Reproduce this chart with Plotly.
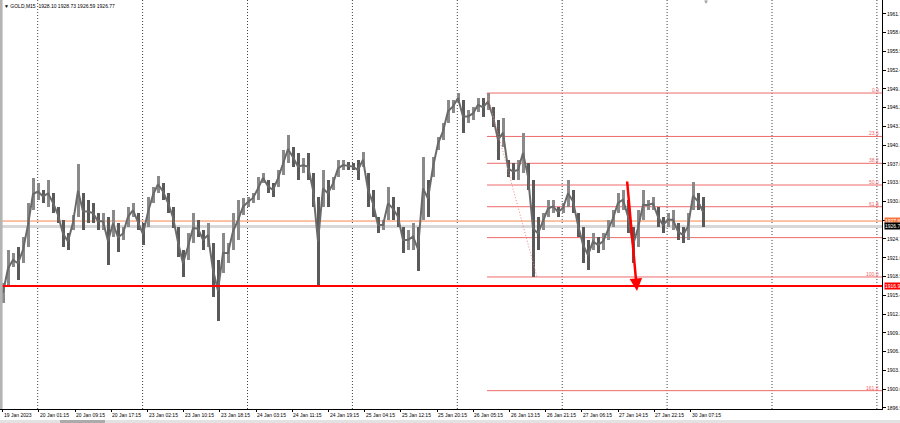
import plotly.graph_objects as go

# ---- data (one column ~ 4.4 M15 bars) ----
HIGH = [1917.5, 1922.9, 1922.4, 1923.4, 1925.0, 1930.6, 1934.7, 1933.9, 1932.8, 1934.4,
        1932.3, 1930.0, 1927.8, 1925.7, 1928.6, 1937.0, 1932.3, 1931.1, 1930.6, 1929.0,
        1929.0, 1928.3, 1929.5, 1927.3, 1926.7, 1930.0, 1930.6, 1929.0, 1927.3, 1931.6,
        1933.3, 1935.1, 1933.9, 1932.3, 1930.0, 1926.7, 1922.9, 1925.7, 1929.0, 1927.8,
        1926.2, 1927.3, 1924.0, 1921.2, 1925.7, 1924.0, 1929.0, 1931.1, 1931.4, 1931.6,
        1932.3, 1934.9, 1935.6, 1934.4, 1933.9, 1936.0, 1939.3, 1941.8, 1939.8, 1938.8,
        1938.0, 1938.8, 1935.6, 1931.6, 1936.0, 1934.4, 1934.9, 1937.7, 1937.7, 1937.4,
        1937.2, 1937.7, 1939.0, 1935.6, 1932.8, 1928.3, 1927.8, 1933.3, 1931.6, 1930.0,
        1926.7, 1926.2, 1927.3, 1926.7, 1938.2, 1934.4, 1938.2, 1941.5, 1943.8, 1947.6,
        1947.6, 1948.7, 1947.6, 1945.9, 1946.4, 1947.9, 1947.9, 1948.7, 1946.4, 1944.3,
        1944.6, 1937.7, 1937.2, 1937.7, 1942.1, 1937.2, 1934.4, 1928.3, 1929.0, 1931.1,
        1931.1, 1930.0, 1930.6, 1934.4, 1932.8, 1929.0, 1926.7, 1924.5, 1925.7, 1925.0,
        1925.7, 1927.8, 1929.5, 1932.3, 1932.8, 1931.1, 1926.7, 1929.5, 1932.8, 1931.1,
        1931.6, 1930.0, 1928.3, 1929.0, 1929.5, 1927.3, 1926.7, 1929.0, 1934.1, 1932.3,
        1931.6]
LOW = [1914.2, 1916.8, 1920.1, 1918.0, 1920.8, 1923.4, 1929.5, 1931.1, 1930.6, 1930.0,
       1929.0, 1927.3, 1923.4, 1922.9, 1926.2, 1928.3, 1926.2, 1927.3, 1927.3, 1926.2,
       1926.2, 1920.4, 1925.0, 1922.6, 1924.5, 1926.7, 1928.3, 1926.2, 1923.7, 1926.7,
       1930.6, 1932.3, 1931.1, 1929.0, 1926.5, 1921.7, 1918.5, 1921.2, 1924.0, 1925.0,
       1922.9, 1923.4, 1915.2, 1911.2, 1919.1, 1920.8, 1922.9, 1924.5, 1928.6, 1930.0,
       1930.6, 1931.1, 1933.9, 1932.3, 1931.6, 1933.3, 1935.2, 1937.2, 1936.5, 1934.4,
       1935.6, 1934.4, 1930.0, 1917.0, 1930.0, 1930.0, 1932.8, 1934.9, 1936.0, 1936.0,
       1936.0, 1934.4, 1936.5, 1930.0, 1928.3, 1925.7, 1926.2, 1927.8, 1927.8, 1926.7,
       1922.4, 1922.9, 1922.9, 1919.4, 1927.8, 1928.3, 1934.9, 1939.3, 1941.0, 1943.8,
       1945.4, 1947.1, 1942.1, 1943.8, 1944.3, 1945.6, 1944.8, 1945.9, 1943.1, 1937.7,
       1939.8, 1934.9, 1934.4, 1934.4, 1935.6, 1932.8, 1918.5, 1922.9, 1926.2, 1928.3,
       1929.0, 1928.3, 1929.0, 1930.0, 1929.0, 1925.0, 1920.8, 1919.6, 1922.9, 1922.4,
       1922.9, 1924.5, 1926.7, 1929.0, 1929.5, 1925.7, 1920.8, 1923.4, 1927.8, 1929.5,
       1929.5, 1926.7, 1925.7, 1926.7, 1926.2, 1924.5, 1924.0, 1924.5, 1929.5, 1929.5,
       1926.7]

TIME_LABELS = ["19 Jan 2023", "20 Jan 01:15", "20 Jan 09:15", "20 Jan 17:15", "23 Jan 02:15",
               "23 Jan 10:15", "23 Jan 18:15", "24 Jan 03:15", "24 Jan 11:15", "24 Jan 19:15",
               "25 Jan 04:15", "25 Jan 12:15", "25 Jan 20:15", "26 Jan 05:15", "26 Jan 13:15",
               "26 Jan 21:15", "27 Jan 06:15", "27 Jan 14:15", "27 Jan 22:15", "30 Jan 07:15"]
PRICE_TICKS = [1896.93, 1900.02, 1903.10, 1906.19, 1909.27, 1912.36, 1915.44, 1918.53,
               1921.61, 1924.70, 1927.78, 1930.87, 1933.95, 1937.04, 1940.12, 1943.21,
               1946.29, 1949.38, 1952.46, 1955.55, 1958.63, 1961.72]

FIB_HIGH = 1948.70
FIB_LOW = 1918.45
FIB_LEVELS = [0.0, 23.6, 38.2, 50.0, 61.8, 78.6, 100.0, 161.8]
FIB_LABELLED = [True, True, True, True, True, False, True, True]
SUPPORT = 1916.97
ASK = 1927.65
BID = 1926.77
TITLE_OHLC = "1928.10 1928.73 1926.59 1926.77"
ARROW_FROM = (124.8, 1934.4)
ARROW_TO = (126.8, 1916.15)
FIB_START_COL = 96.8
FIB_TREND_END_COL = 106.8
SHIFT_MARK_COL = 140.6

# ---- layout constants ----
W, H = 900, 423
ML, MR, MT, MB = 0, 18, 0, 14
COLS_PER_LABEL = 7.24
LABEL_OFFSET = -0.06
GRID_START, GRID_STEP = 6.94, 20.98
X_MIN, X_MAX = -0.6, 175.8
Y_MIN, Y_MAX = 1896.74, 1964.0
FONT = "Liberation Sans"
FIB_COLOR = "#ee6b6b"

plot_h = H - MT - MB
plot_w = W - ML - MR

x = list(range(len(HIGH)))
mid = [(h + l) / 2 for h, l in zip(HIGH, LOW)]
colors = ["#5a5a5a" if i > 0 and mid[i] < mid[i - 1] else "#8a8a8a" for i in range(len(mid))]

fig = go.Figure()
fig.add_trace(go.Scatter(x=x, y=mid, mode="lines", line=dict(color="#6a6a6a", width=2),
                         hoverinfo="skip", showlegend=False))
fig.add_trace(go.Bar(x=x, y=[h - l for h, l in zip(HIGH, LOW)], base=LOW,
                     marker=dict(color=colors, line=dict(width=0)), width=0.6,
                     hoverinfo="skip", showlegend=False))

shapes = []
# vertical dotted grid
g = GRID_START
while g < X_MAX:
    shapes.append(dict(type="line", xref="x", yref="paper", x0=g, x1=g, y0=0, y1=1,
                       line=dict(color="#404040", width=1, dash="1px,2px"), layer="below"))
    g += GRID_STEP

# bid / ask lines
shapes.append(dict(type="line", xref="paper", yref="y", x0=0, x1=1, y0=BID, y1=BID,
                   line=dict(color="#d8d8d8", width=3), layer="below"))
shapes.append(dict(type="line", xref="paper", yref="y", x0=0, x1=1, y0=ASK, y1=ASK,
                   line=dict(color="#f4884e", width=1), layer="below"))

# fibonacci levels
annotations = []
rng = FIB_HIGH - FIB_LOW
for lvl, lab in zip(FIB_LEVELS, FIB_LABELLED):
    p = FIB_HIGH - lvl / 100.0 * rng
    shapes.append(dict(type="line", xref="x", yref="y", x0=FIB_START_COL, x1=X_MAX, y0=p, y1=p,
                       line=dict(color=FIB_COLOR, width=1), layer="below"))
    if lab:
        annotations.append(dict(xref="paper", yref="y", x=0.998, y=p, xanchor="right",
                                yanchor="bottom", text=f"{lvl:.1f}", showarrow=False,
                                borderpad=0, yshift=-1,
                                font=dict(family=FONT, size=5, color=FIB_COLOR)))
# fib trend line
shapes.append(dict(type="line", xref="x", yref="y", x0=FIB_START_COL, y0=FIB_HIGH,
                   x1=FIB_TREND_END_COL, y1=FIB_LOW,
                   line=dict(color="#f08080", width=1, dash="1px,2px")))
# support line
shapes.append(dict(type="line", xref="paper", yref="y", x0=0, x1=1, y0=SUPPORT, y1=SUPPORT,
                   line=dict(color="#ff0000", width=2)))

# left border & bottom scrollbar strip
shapes.append(dict(type="rect", xref="paper", yref="paper", x0=0, x1=2.6 / plot_w, y0=0, y1=1,
                   fillcolor="#b4b4b4", line=dict(width=0)))
shapes.append(dict(type="rect", xref="paper", yref="paper", x0=0, x1=W / plot_w,
                   y0=-14 / plot_h, y1=-11 / plot_h, fillcolor="#e2e2e2", line=dict(width=0)))
shapes.append(dict(type="rect", xref="paper", yref="paper", x0=60 / plot_w, x1=105 / plot_w,
                   y0=-14 / plot_h, y1=-11 / plot_h, fillcolor="#ababab", line=dict(width=0)))

# chart-shift marker at the top
annotations.append(dict(xref="x", yref="paper", x=SHIFT_MARK_COL, y=1, xanchor="center",
                        yanchor="top", yshift=2, text="▼", showarrow=False, borderpad=0,
                        font=dict(family=FONT, size=6, color="#a0a0a0")))

# red arrow
annotations.append(dict(x=ARROW_TO[0], y=ARROW_TO[1], ax=ARROW_FROM[0], ay=ARROW_FROM[1],
                        xref="x", yref="y", axref="x", ayref="y", text="", showarrow=True,
                        arrowhead=2, arrowsize=1.0, arrowwidth=2.5, arrowcolor="#ff0000"))

# price boxes on the right axis
for price, bg in [(ASK, "#f4763c"), (BID, "#000000"), (SUPPORT, "#ff0000")]:
    annotations.append(dict(xref="paper", yref="y", x=1, xshift=2, y=price, xanchor="left",
                            yanchor="middle", text=f"{price:.2f}", showarrow=False,
                            bgcolor=bg, borderpad=0,
                            font=dict(family=FONT, size=5, color="#ffffff")))

# time labels as annotations (left aligned at their tick)
tickvals = [LABEL_OFFSET + i * COLS_PER_LABEL for i in range(len(TIME_LABELS))]
for tv, lab in zip(tickvals, TIME_LABELS):
    annotations.append(dict(xref="x", yref="paper", x=tv, y=0, xanchor="left", yanchor="top",
                            yshift=-2, xshift=0, text=lab, showarrow=False, borderpad=0,
                            font=dict(family=FONT, size=5, color="#000000")))

# title
annotations.append(dict(xref="paper", yref="paper", x=3 / plot_w, y=1, xanchor="left",
                        yanchor="top", yshift=-2, showarrow=False, borderpad=0,
                        text="▼ GOLD,M15  " + TITLE_OHLC,
                        font=dict(family=FONT, size=5, color="#000000")))

fig.update_layout(
    width=W, height=H, margin=dict(l=ML, r=MR, t=MT, b=MB, autoexpand=False),
    paper_bgcolor="#ffffff", plot_bgcolor="#ffffff",
    bargap=0, shapes=shapes, annotations=annotations,
    font=dict(family=FONT, size=5, color="#000000"),
    xaxis=dict(range=[X_MIN, X_MAX], tickmode="array", tickvals=tickvals,
               ticktext=["" for _ in tickvals], automargin=False,
               ticks="outside", ticklen=2, tickcolor="#000000", showgrid=False, zeroline=False,
               showline=True, linecolor="#000000", linewidth=1),
    yaxis=dict(range=[Y_MIN, Y_MAX], side="right", tickmode="array", tickvals=PRICE_TICKS,
               ticktext=[f"{v:.2f}" for v in PRICE_TICKS], ticks="outside", ticklen=3,
               tickcolor="#000000", showgrid=False, zeroline=False, showline=True,
               linecolor="#000000", linewidth=1, automargin=False,
               tickfont=dict(family=FONT, size=5, color="#000000")),
)

fig.write_html("out.html", config={"displayModeBar": False},
               post_script="document.body.style.margin='0';")
